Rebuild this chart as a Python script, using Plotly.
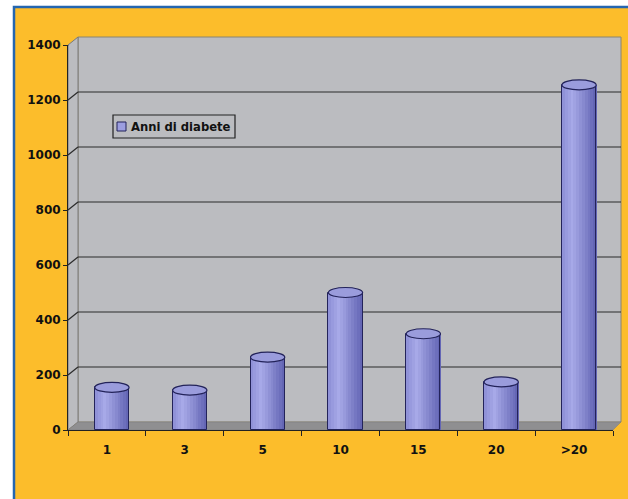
import plotly.graph_objects as go

categories = ["1", "3", "5", "10", "15", "20", ">20"]
values = [155, 145, 265, 500, 350, 175, 1255]
series_name = "Anni di diabete"
y_ticks = [0, 200, 400, 600, 800, 1000, 1200, 1400]

W, H = 628, 499
L, R, T, B = 68, 613, 45, 430  # plot area in pixels


def px(xp):
    return (xp - L) / (R - L)


def py(yp):
    return (B - yp) / (B - T)


ORANGE = "#FCBD2B"
BLUE = "#2466B0"
WALL = "#BBBCC0"
FLOOR = "#8F8F91"
DX, DY = 10, 8  # depth offset
cat_px = (R - L) / len(categories)
shift_px = 5  # bars sit at mid depth
shift = shift_px / cat_px

fig = go.Figure()

bar_w = 0.44
N = 12
light = (168, 170, 232)
mid = (140, 142, 214)
dark = (96, 98, 178)


def mix(a, b, t):
    return "rgb(%d,%d,%d)" % tuple(round(a[k] + (b[k] - a[k]) * t) for k in range(3))


for i in range(N):
    t = (i + 0.5) / N
    if t < 0.3:
        c = mix(mid, light, t / 0.3)
    else:
        c = mix(light, dark, (t - 0.3) / 0.7)
    fig.add_trace(go.Bar(x=categories, y=values, width=bar_w / N + 0.004,
                         offset=-bar_w / 2 + shift + i * bar_w / N,
                         marker=dict(color=c, line=dict(width=0)),
                         showlegend=False, hoverinfo="skip"))
fig.add_trace(go.Bar(x=categories, y=values, width=bar_w, offset=-bar_w / 2 + shift,
                     name=series_name,
                     marker=dict(color="rgba(0,0,0,0)", line=dict(color="#23235A", width=1)),
                     showlegend=False))

shapes = []
# outer orange frame with blue border
shapes.append(dict(type="rect", xref="paper", yref="paper", x0=px(14), x1=px(W + 20),
                   y0=py(W + 20), y1=py(7), fillcolor=ORANGE,
                   line=dict(color=BLUE, width=2.5), layer="below"))
# back wall
shapes.append(dict(type="rect", xref="paper", yref="paper", x0=px(L + DX), x1=px(R + DX - 2),
                   y0=py(B - DY), y1=py(T - DY), fillcolor=WALL,
                   line=dict(color="#8A8470", width=1), layer="below"))
# side wall
shapes.append(dict(type="path", xref="paper", yref="paper",
                   path="M %f %f L %f %f L %f %f L %f %f Z" % (
                       px(L), py(T), px(L + DX), py(T - DY), px(L + DX), py(B - DY), px(L), py(B)),
                   fillcolor=WALL, line=dict(color="#7A7A7A", width=1), layer="below"))
# floor
shapes.append(dict(type="path", xref="paper", yref="paper",
                   path="M %f %f L %f %f L %f %f L %f %f Z" % (
                       px(L), py(B), px(L + DX), py(B - DY), px(R + DX - 2), py(B - DY), px(R), py(B)),
                   fillcolor=FLOOR, line=dict(color="#7A7A7A", width=0.5), layer="below"))
# gridlines on back wall and side wall
for v in y_ticks[1:]:
    shapes.append(dict(type="line", xref="paper", yref="y", ysizemode="pixel", yanchor=v,
                       x0=px(L + DX), x1=px(R + DX - 2), y0=DY, y1=DY,
                       line=dict(color="#2B2B2B", width=1.2), layer="below"))
    shapes.append(dict(type="line", xref="paper", yref="y", ysizemode="pixel", yanchor=v,
                       x0=px(L), x1=px(L + DX), y0=0, y1=DY,
                       line=dict(color="#2B2B2B", width=1.2), layer="below"))
# cylinder tops
half = bar_w / 2 * cat_px
for i, v in enumerate(values):
    shapes.append(dict(type="circle", xref="x", yref="y", xsizemode="pixel", ysizemode="pixel",
                       xanchor=i, yanchor=v, x0=-half + shift_px, x1=half + shift_px, y0=-5, y1=5,
                       fillcolor="#9A9CDC", line=dict(color="#23235A", width=1.2), layer="above"))

# legend box (drawn manually to match the original placement)
shapes.append(dict(type="rect", xref="paper", yref="paper", x0=px(113), x1=px(235),
                   y0=py(138), y1=py(115), fillcolor="rgba(0,0,0,0)",
                   line=dict(color="#222222", width=1.2), layer="above"))
shapes.append(dict(type="rect", xref="paper", yref="paper", x0=px(117), x1=px(126),
                   y0=py(131), y1=py(122), fillcolor="#9C9EE0",
                   line=dict(color="#23235A", width=1), layer="above"))

annotations = [dict(x=px(129), y=py(126.5), xref="paper", yref="paper", xanchor="left",
                    yanchor="middle", text=series_name, showarrow=False,
                    font=dict(size=11.6, weight="bold", color="#111111"))]

fig.update_layout(
    width=W, height=H,
    margin=dict(l=L, r=W - R, t=T, b=H - B),
    paper_bgcolor="white", plot_bgcolor="rgba(0,0,0,0)",
    barmode="overlay", bargap=0,
    shapes=shapes, annotations=annotations,
    font=dict(family="DejaVu Sans", size=12, color="#111111"),
    showlegend=False,
    xaxis=dict(type="category", range=[-0.5, len(categories) - 0.5],
               showgrid=False, showline=True, linecolor="#222222", linewidth=1,
               ticks="outside", ticklen=5, tickcolor="#222222", tickson="boundaries",
               ticklabelstandoff=9,
               tickfont=dict(size=12, weight="bold"), fixedrange=True),
    yaxis=dict(range=[0, 1400], tickvals=y_ticks, showgrid=False, zeroline=False,
               showline=True, linecolor="#222222", linewidth=1,
               ticks="outside", ticklen=4, tickcolor="#222222",
               tickfont=dict(size=12, weight="bold"), fixedrange=True),
)

fig.write_html("out.html")
